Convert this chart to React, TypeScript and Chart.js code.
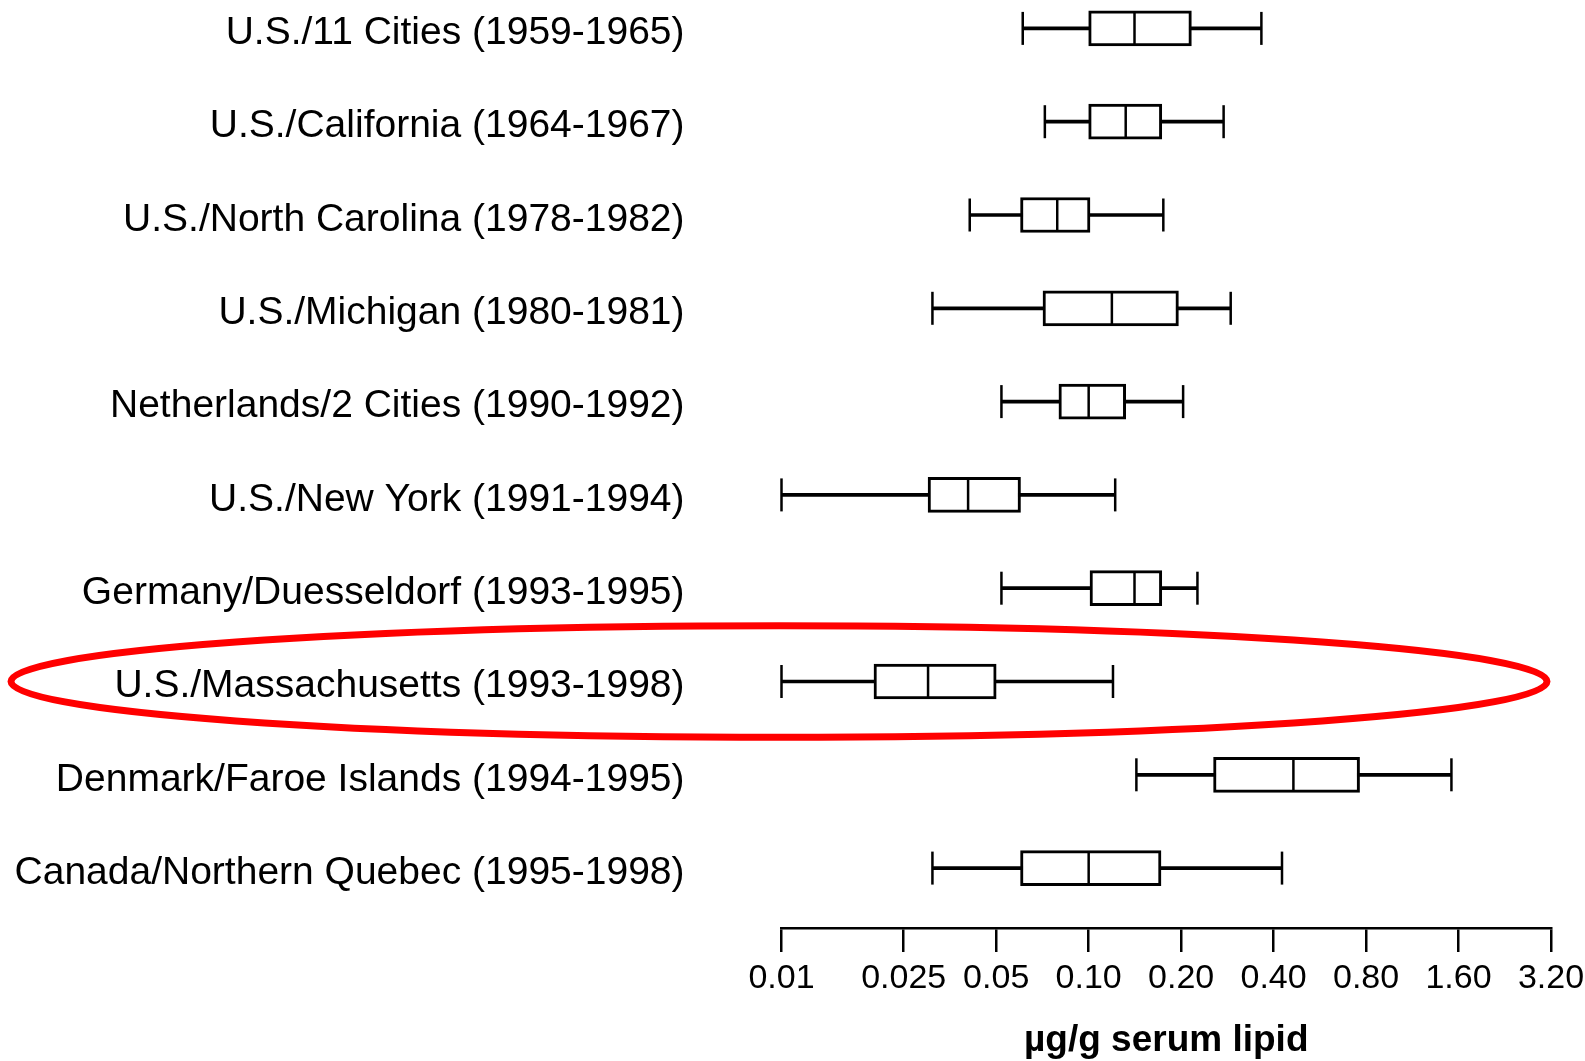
import React, { useEffect, useRef } from 'react';
import { Chart, registerables } from 'chart.js';

Chart.register(...registerables);

const categories = [
  'U.S./11 Cities (1959-1965)',
  'U.S./California (1964-1967)',
  'U.S./North Carolina (1978-1982)',
  'U.S./Michigan (1980-1981)',
  'Netherlands/2 Cities (1990-1992)',
  'U.S./New York (1991-1994)',
  'Germany/Duesseldorf (1993-1995)',
  'U.S./Massachusetts (1993-1998)',
  'Denmark/Faroe Islands (1994-1995)',
  'Canada/Northern Quebec (1995-1998)',
];

const whiskerMin = [0.061, 0.072, 0.041, 0.031, 0.052, 0.010, 0.052, 0.010, 0.143, 0.031];
const q1 = [0.100, 0.100, 0.060, 0.071, 0.080, 0.030, 0.101, 0.020, 0.255, 0.060];
const median = [0.141, 0.132, 0.079, 0.119, 0.100, 0.0405, 0.141, 0.030, 0.464, 0.100];
const q3 = [0.216, 0.173, 0.101, 0.196, 0.132, 0.060, 0.173, 0.050, 0.762, 0.172];
const whiskerMax = [0.365, 0.275, 0.175, 0.290, 0.203, 0.122, 0.226, 0.120, 1.517, 0.426];

const tickValues = [0.01, 0.025, 0.05, 0.1, 0.2, 0.4, 0.8, 1.6, 3.2];
const tickLabels = ['0.01', '0.025', '0.05', '0.10', '0.20', '0.40', '0.80', '1.60', '3.20'];
const xTitle = 'µg/g serum lipid';
const highlightIndex = 7;

const FONT = '"Liberation Sans", Arial, Helvetica, sans-serif';

const decorPlugin = {
  id: 'boxDecor',
  afterDatasetsDraw(chart: any) {
    const { ctx, scales } = chart;
    const x = scales.x;
    const y = scales.y;
    ctx.save();
    ctx.strokeStyle = '#000';
    ctx.lineCap = 'butt';
    categories.forEach((_, i) => {
      const yc = y.getPixelForValue(i);
      const h = 16.5;
      ctx.lineWidth = 2.5;
      [whiskerMin[i], whiskerMax[i]].forEach((v) => {
        const px = x.getPixelForValue(v);
        ctx.beginPath();
        ctx.moveTo(px, yc - h);
        ctx.lineTo(px, yc + h);
        ctx.stroke();
      });
      const pm = x.getPixelForValue(median[i]);
      ctx.lineWidth = 2.5;
      ctx.beginPath();
      ctx.moveTo(pm, yc - 16);
      ctx.lineTo(pm, yc + 16);
      ctx.stroke();
    });
    ctx.restore();
  },
  afterDraw(chart: any) {
    const { ctx, scales } = chart;
    const x = scales.x;
    const y = scales.y;
    const yc = y.getPixelForValue(highlightIndex);
    const left = 11;
    const right = x.right - 4;
    ctx.save();
    ctx.strokeStyle = '#ff0000';
    ctx.lineWidth = 7;
    ctx.beginPath();
    ctx.ellipse((left + right) / 2, yc, (right - left) / 2, 55.7, 0, 0, Math.PI * 2);
    ctx.stroke();
    ctx.restore();
  },
};

export default function App() {
  const ref = useRef<HTMLCanvasElement | null>(null);

  useEffect(() => {
    if (!ref.current) return;
    const chart = new Chart(ref.current, {
      type: 'bar',
      data: {
        datasets: [
          {
            label: 'box',
            data: categories.map((_, i) => ({ x: [q1[i], q3[i]], y: i })) as any,
            backgroundColor: '#ffffff',
            borderColor: '#000000',
            borderWidth: 3,
            borderSkipped: false,
            barThickness: 35,
            grouped: false,
            order: 0,
          } as any,
          {
            label: 'whisker',
            data: categories.map((_, i) => ({ x: [whiskerMin[i], whiskerMax[i]], y: i })) as any,
            backgroundColor: '#000000',
            borderWidth: 0,
            barThickness: 3,
            grouped: false,
            order: 1,
          } as any,
        ],
      },
      options: {
        indexAxis: 'y',
        animation: false,
        responsive: true,
        maintainAspectRatio: false,
        devicePixelRatio: 1,
        layout: { padding: { left: 0, right: 34, top: 0, bottom: 0 } },
        plugins: { legend: { display: false }, tooltip: { enabled: false } },
        scales: {
          x: {
            type: 'logarithmic',
            position: 'bottom',
            min: 0.01,
            max: 3.2,
            afterBuildTicks: (s: any) => {
              s.ticks = tickValues.map((v) => ({ value: v }));
            },
            afterFit: (s: any) => {
              s.height = 133;
              s.paddingLeft = 0;
              s.paddingRight = 0;
            },
            ticks: {
              callback: (_v: any, i: number) => tickLabels[i],
              font: { family: FONT, size: 34 },
              color: '#000',
              padding: 6,
              maxRotation: 0,
              minRotation: 0,
              autoSkip: false,
            },
            grid: {
              display: true,
              drawOnChartArea: false,
              drawTicks: true,
              tickLength: 24,
              color: '#000',
              lineWidth: 2.5,
            },
            border: { display: true, color: '#000', width: 2.5 },
            title: {
              display: true,
              text: xTitle,
              color: '#000',
              font: { family: FONT, size: 37, weight: 'bold' },
              padding: { top: 0, bottom: -2 },
            },
          } as any,
          y: {
            type: 'linear',
            reverse: true,
            offset: false,
            bounds: 'data',
            min: -0.3044,
            max: 9.642,
            afterBuildTicks: (s: any) => {
              s.ticks = categories.map((_, i) => ({ value: i }));
            },
            afterFit: (s: any) => {
              s.width = 781.5;
              s.paddingTop = 0;
              s.paddingBottom = 0;
            },
            ticks: {
              callback: (v: any) => categories[v as number],
              font: { family: FONT, size: 39 },
              color: '#000',
              padding: 97,
              labelOffset: 5,
              autoSkip: false,
            },
            grid: { display: false, drawTicks: false, offset: false },
            border: { display: false },
          } as any,
        },
      },
      plugins: [decorPlugin],
    });
    return () => chart.destroy();
  }, []);

  return (
    <div style={{ position: 'absolute', left: 0, top: 0, width: 1585, height: 1061, background: '#fff' }}>
      <canvas ref={ref} />
    </div>
  );
}
